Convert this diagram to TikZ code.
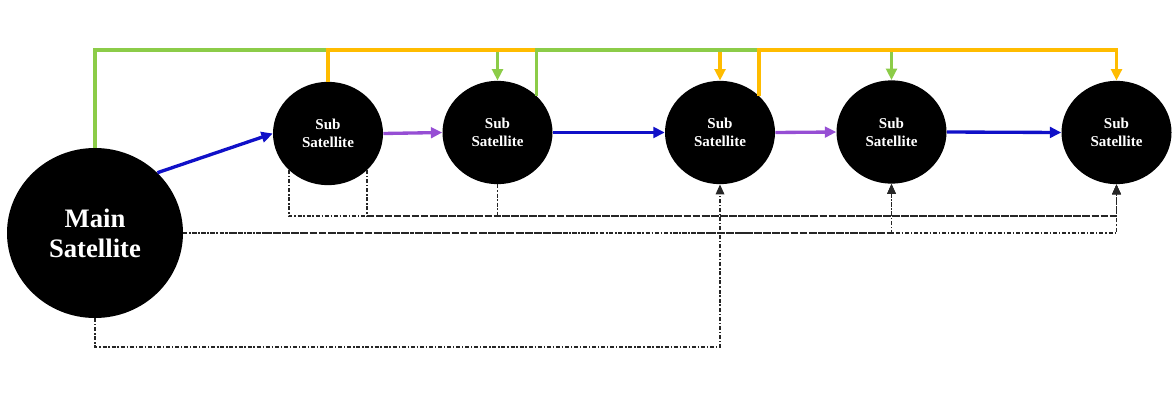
\documentclass[tikz,border=0pt]{standalone}
\usepackage{fontspec}
\setmainfont{Liberation Serif}
\usetikzlibrary{arrows.meta,shapes.geometric,calc}
\definecolor{cblue}{RGB}{16,16,200}
\definecolor{cpurple}{RGB}{150,78,212}
\definecolor{cgreen}{RGB}{140,204,72}
\definecolor{corange}{RGB}{255,188,0}
\begin{document}
\begin{tikzpicture}[x=0.75pt,y=-0.75pt,
  sat/.style={ellipse,fill=black,draw=none,text=white,align=center,inner sep=0pt},
  mainsat/.style={sat,minimum width=132pt,minimum height=127.5pt,
    font=\bfseries\fontsize{20}{22.5}\selectfont},
  subsat/.style={sat,minimum width=82.5pt,minimum height=77.5pt,
    font=\bfseries\fontsize{11.3}{13.5}\selectfont},
  link/.style={line width=2.5pt,-{Triangle[length=8.5pt,width=8pt]}},
  bluelink/.style={link,cblue},
  purplelink/.style={link,cpurple},
  greenlink/.style={link,cgreen},
  orangelink/.style={link,corange},
  dline/.style={line width=0.9pt,black!85,
    dash pattern=on 3pt off 1.4pt on 1pt off 1.4pt,
    -{Triangle[length=7.5pt,width=6.5pt]}}
]
\useasboundingbox (0,0) rectangle (1176,403);
\node[mainsat] (main) at (95,233) {Main\\Satellite};
\node[subsat] (s1) at (328,133.5) {Sub\\Satellite};
\node[subsat] (s2) at (497.5,132.5) {Sub\\Satellite};
\node[subsat] (s3) at (720,132.5) {Sub\\Satellite};
\node[subsat] (s4) at (891.5,132) {Sub\\Satellite};
\node[subsat] (s5) at (1116.5,132.5) {Sub\\Satellite};
\coordinate (topy) at (0,50);
\coordinate (dy1) at (0,216);
\coordinate (dy3) at (0,347);
% chain
\draw[bluelink] (main.north east) -- (s1.west);
\draw[purplelink] (s1.east) -- (s2.west);
\draw[bluelink] (s2.east) -- (s3.west);
\draw[purplelink] (s3.east) -- (s4.west);
\draw[bluelink] (s4.east) -- (s5.west);
% skip-one links
\draw[greenlink] (main.north) -- (main.north|-topy) -| (s2.north);
\draw[orangelink] (s1.north) -- (s1.north|-topy) -| (s3.north);
\draw[greenlink] (s2.north east) -- (s2.north east|-topy) -| (s4.north);
\draw[orangelink] (s3.north east) -- (s3.north east|-topy) -| (s5.north);
% dash-dot links
\draw[dline] (s1.south west) -- (s1.south west|-dy1) -| (s5.south);
\draw[dline] (s1.south east) -- (s1.south east|-dy1) -| (s4.south);
\draw[dline] (s2.south) -- (s2.south|-dy1) -| (s5.south);
\draw[dline] (main.east) -| (s4.south);
\draw[dline,dash pattern=on 3pt off 1.47pt on 1pt off 1.47pt] (main.east) -| (s5.south);
\draw[dline] (main.south) -- (main.south|-dy3) -| (s3.south);
\end{tikzpicture}
\end{document}
